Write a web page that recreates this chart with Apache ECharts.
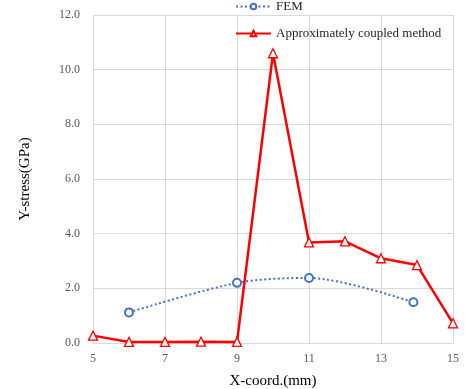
<!DOCTYPE html>
<html><head><meta charset="utf-8">
<script src="https://cdn.jsdelivr.net/npm/echarts@6/dist/echarts.min.js"></script>
<style>html,body{margin:0;padding:0;background:#fff}#c{width:465px;height:389px}</style>
</head><body><div id="c"></div>
<script>
var femX = [6, 9, 11, 13.9];
var femY = [1.12, 2.2, 2.38, 1.49];
var acmX = [5, 6, 7, 8, 9, 10, 11, 12, 13, 14, 15];
var acmY = [0.27, 0.04, 0.04, 0.05, 0.04, 10.6, 3.68, 3.72, 3.1, 2.85, 0.72];
var yTicks = ['0.0','2.0','4.0','6.0','8.0','10.0','12.0'];
function pairs(xs, ys){ return xs.map(function(x,i){return [x, ys[i]];}); }
var font = '"Liberation Serif","Times New Roman",serif';
var chart = echarts.init(document.getElementById('c'));
chart.setOption({
  animation:false,
  textStyle:{fontFamily:font},
  grid:{left:93,right:12,top:15,bottom:46,outerBoundsMode:'none',containLabel:false},
  legend:{
    orient:'vertical', left:235, top:0, padding:0, itemWidth:35, itemHeight:7, itemGap:14,
    textStyle:{fontFamily:font,fontSize:13,color:'#262626'},
    data:['FEM','Approximately coupled method']
  },
  xAxis:{
    type:'value', min:5, max:15, interval:2,
    name:'X-coord.(mm)', nameLocation:'middle', nameGap:31,
    nameTextStyle:{fontFamily:font,fontSize:15,color:'#000'},
    axisLine:{show:true,lineStyle:{color:'#d9d9d9'}},
    axisTick:{show:false},
    axisLabel:{fontFamily:font,fontSize:12,color:'#595959',margin:10},
    splitLine:{show:true,lineStyle:{color:'#d9d9d9'}}
  },
  yAxis:{
    type:'value', min:0, max:12, interval:2,
    name:'Y-stress(GPa)', nameLocation:'middle', nameGap:60,
    nameTextStyle:{fontFamily:font,fontSize:15,color:'#000'},
    axisLine:{show:true,lineStyle:{color:'#d9d9d9'}},
    axisTick:{show:false},
    axisLabel:{fontFamily:font,fontSize:12,color:'#595959',margin:13,
      formatter:function(v){ return yTicks[Math.round(v/2)]; }},
    splitLine:{show:true,lineStyle:{color:'#d9d9d9'}}
  },
  series:[
    {name:'FEM', type:'line', smooth:0.3, data:pairs(femX,femY),
     symbol:'emptyCircle', symbolSize:8,
     lineStyle:{color:'#4472c4',width:2,type:[2,2.5]},
     itemStyle:{color:'#4472c4',borderWidth:1.3},
     z:2},
    {name:'Approximately coupled method', type:'line', data:pairs(acmX,acmY),
     symbol:'triangle', symbolSize:9,
     lineStyle:{color:'#ff0000',width:2.5},
     itemStyle:{color:'#fff',borderColor:'#ff0000',borderWidth:1.3},
     z:3}
  ]
});
</script></body></html>
